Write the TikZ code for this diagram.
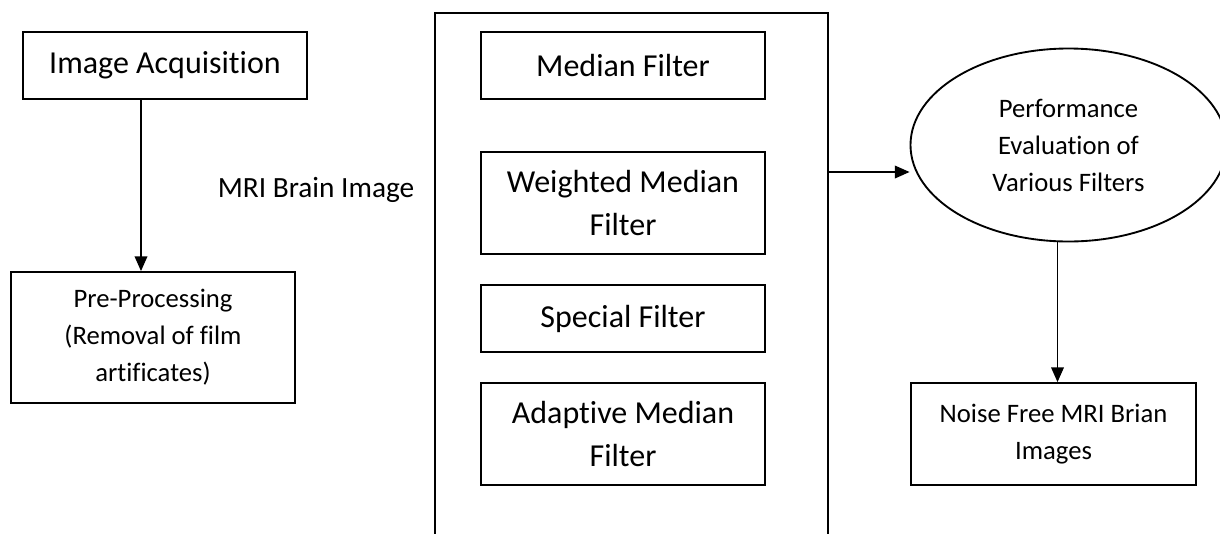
\documentclass[tikz,border=0pt]{standalone}
\usepackage{fontspec}
\setmainfont[Ligatures=NoCommon]{Carlito}
\usetikzlibrary{shapes.geometric,arrows.meta}

\tikzset{every picture/.style={line width=1.4pt}}
\tikzset{
  bigtext/.style={font=\fontsize{24}{32.25}\selectfont, align=center},
  smalltext/.style={font=\fontsize{20}{27.75}\selectfont, align=center},
  flatbox/.style={draw, rectangle, inner sep=0pt, minimum width=213pt, minimum height=50.25pt},
  tallbox/.style={draw, rectangle, inner sep=0pt, minimum width=213pt, minimum height=76.5pt},
  arr/.style={line width=1pt, -{Triangle[length=11pt,width=9.5pt]}},
}

\begin{document}
\begin{tikzpicture}[x=0.75pt,y=0.75pt,yscale=-1,xscale=1]
        \useasboundingbox (0,0) rectangle (1220,533);

        %Shape: Rectangle [left column]
        \node [flatbox, bigtext] (acq) at (165,65.5) {Image Acquisition};
        \node [draw, rectangle, inner sep=0pt, minimum width=213pt, minimum height=98.25pt, smalltext] (pre) at (153,337.5) {Pre-Processing\\(Removal of film\\artificates)};

        % Text Node
        \node [font=\fontsize{22}{26}\selectfont] (mri) at (316,190) {MRI Brain Image};

        %Shape: open frame round the filters
        \coordinate (fbl) at (435,540);
        \coordinate (ftl) at (435,13);
        \coordinate (ftr) at (828,13);
        \coordinate (fbr) at (828,540);
        \draw (fbl) -- (ftl) -- (ftr) -- (fbr);

        %Shape: Rectangle [filters]
        \node [flatbox, bigtext] (medf) at (623,65.5) {Median Filter};
        \node [tallbox, bigtext] (wmf) at (623,203) {Weighted Median\\Filter};
        \node [flatbox, bigtext] (spf) at (623,318.5) {Special Filter};
        \node [tallbox, bigtext] (amf) at (623,434) {Adaptive Median\\Filter};

        %Shape: Ellipse
        \node [draw, ellipse, inner sep=0pt, minimum width=237pt, minimum height=144.75pt, smalltext] (perf) at (1068.5,145) {Performance\\Evaluation of\\Various Filters};

        %Shape: Rectangle [output]
        \node [draw, rectangle, inner sep=0pt, minimum width=213.75pt, minimum height=76.5pt, smalltext] (nfree) at (1053.5,434) {Noise Free MRI Brian\\Images};

        %Straight Lines with arrows
        \draw [arr] ([xshift=-18pt]acq.south) -- ([xshift=-18pt]acq.south |- pre.north);
        \coordinate (tap) at (828,172);
        \draw [arr] (tap) -- (tap -| perf.west);
        \draw [arr] ([xshift=-8.25pt]perf.south) -- ([xshift=-8.25pt]perf.south |- nfree.north);

\end{tikzpicture}
\end{document}
